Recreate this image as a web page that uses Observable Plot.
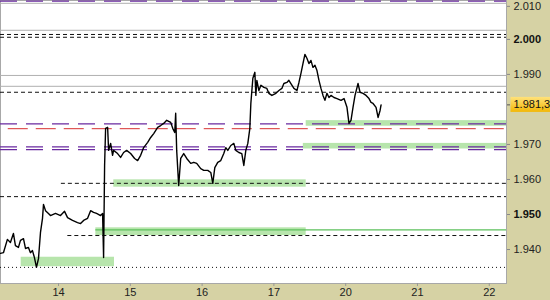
<!DOCTYPE html>
<html>
<head>
<meta charset="utf-8">
<script src="https://cdn.jsdelivr.net/npm/d3@7"></script>
<script src="https://cdn.jsdelivr.net/npm/@observablehq/plot@0.6"></script>
<style>
  html, body { margin: 0; padding: 0; background: #d6d2a4; }
  #chart svg { display: block; }
</style>
</head>
<body>
<div id="chart"></div>
<script>
// ---- data (x = trading-day index: 0 = day 14) ----
const dayLabels = ["14", "15", "16", "17", "20", "21", "22"];
const dayTicks = [0, 1, 2, 3, 4, 5, 6];
const xMin = -0.808, xMax = 6.24;
const yMin = 1.9303, yMax = 2.0111;
const yTicksNormal = [1.94, 1.96, 1.97, 1.99];
const yTicksTop = [2.01];
const yTicksBold = [1.95, 2.00];

const priceX = [-0.809,-0.767,-0.712,-0.670,-0.628,-0.600,-0.558,-0.530,-0.488,-0.460,-0.419,-0.391,-0.363,-0.335,-0.307,-0.279,-0.251,-0.223,-0.209,-0.181,-0.140,-0.112,-0.042,0.028,0.084,0.126,0.195,0.265,0.307,0.349,0.405,0.447,0.488,0.530,0.586,0.614,0.628,0.642,0.656,0.684,0.698,0.726,0.753,0.767,0.823,0.865,0.907,0.949,1.005,1.060,1.102,1.144,1.186,1.242,1.284,1.326,1.381,1.423,1.465,1.507,1.563,1.591,1.619,1.632,1.646,1.674,1.702,1.744,1.786,1.842,1.884,1.925,1.981,2.023,2.079,2.121,2.149,2.177,2.218,2.260,2.302,2.330,2.358,2.400,2.442,2.470,2.512,2.553,2.581,2.609,2.637,2.665,2.679,2.707,2.735,2.749,2.763,2.791,2.819,2.860,2.902,2.930,2.972,3.028,3.070,3.111,3.139,3.181,3.209,3.237,3.279,3.321,3.349,3.377,3.405,3.432,3.460,3.488,3.516,3.544,3.572,3.600,3.628,3.656,3.684,3.711,3.739,3.767,3.795,3.837,3.879,3.935,3.977,4.018,4.046,4.074,4.102,4.130,4.172,4.200,4.242,4.284,4.325,4.353,4.381,4.423,4.451,4.479,4.493];
const priceY = [1.9389,1.9391,1.9429,1.9420,1.9446,1.9411,1.9406,1.9426,1.9431,1.9403,1.9406,1.9391,1.9397,1.9377,1.9349,1.9374,1.9449,1.9489,1.9529,1.9511,1.9503,1.9497,1.9503,1.9497,1.9509,1.9491,1.9483,1.9477,1.9474,1.9483,1.9489,1.9511,1.9506,1.9503,1.9497,1.9503,1.9377,1.9640,1.9746,1.9749,1.9683,1.9703,1.9669,1.9683,1.9674,1.9663,1.9677,1.9683,1.9674,1.9660,1.9654,1.9669,1.9691,1.9706,1.9720,1.9731,1.9749,1.9754,1.9760,1.9769,1.9763,1.9746,1.9734,1.9789,1.9683,1.9583,1.9660,1.9674,1.9660,1.9646,1.9649,1.9646,1.9631,1.9626,1.9626,1.9620,1.9589,1.9634,1.9649,1.9654,1.9674,1.9691,1.9683,1.9697,1.9703,1.9683,1.9677,1.9674,1.9640,1.9683,1.9703,1.9746,1.9817,1.9889,1.9906,1.9840,1.9883,1.9854,1.9869,1.9863,1.9860,1.9846,1.9840,1.9846,1.9854,1.9860,1.9874,1.9877,1.9883,1.9874,1.9860,1.9854,1.9877,1.9903,1.9931,1.9957,1.9946,1.9931,1.9940,1.9920,1.9926,1.9911,1.9883,1.9860,1.9840,1.9826,1.9846,1.9834,1.9840,1.9834,1.9831,1.9826,1.9831,1.9806,1.9760,1.9769,1.9806,1.9840,1.9874,1.9849,1.9846,1.9840,1.9831,1.9820,1.9817,1.9806,1.9777,1.9797,1.9813];

const purpleLevels = [2.0109, 1.9759, 1.9693, 1.9685];
const grayLevels = [2.0103, 2.0026, 1.9897, 1.9866];
const dashedLevels = [2.0014, 2.0006, 1.9849, 1.9551];
const dashedPartialLevels = [1.9589, 1.9440];
const dashedPartialStart = [0.04, 0.13];
const redLevels = [1.9745];
const redStart = [-0.70];
const dottedLevels = [1.9349];

const zoneLow   = [1.9752, 1.9687, 1.9578, 1.9440, 1.9351];
const zoneHigh  = [1.9768, 1.9703, 1.9599, 1.9462, 1.9378];
const zoneStart = [3.45, 3.41, 0.77, 0.52, -0.52];
const zoneEnd   = [xMax, xMax, 3.45, 3.45, 0.78];
const greenLineLevels = [1.9456];
const greenLineStart = [0.52];

// ---- build tables ----
const price = priceX.map((x, i) => ({x, y: priceY[i]}));
const zones = zoneLow.map((lo, i) => ({x1: zoneStart[i], x2: zoneEnd[i], y1: lo, y2: zoneHigh[i]}));
const partial = dashedPartialLevels.map((y, i) => ({y, x1: dashedPartialStart[i], x2: xMax}));
const reds = redLevels.map((y, i) => ({y, x1: redStart[i], x2: xMax}));
const greens = greenLineLevels.map((y, i) => ({y, x1: greenLineStart[i], x2: xMax}));
const last = priceY[priceY.length - 1];
const lastLabel = (d => { const s = d.toFixed(4); return s.slice(0, 5) + "," + s.slice(5); })(last);

const chart = Plot.plot({
  width: 550,
  height: 300,
  marginLeft: 0,
  marginTop: 0,
  marginRight: 44,
  marginBottom: 17,
  style: {background: "#d6d2a4", fontFamily: "Liberation Sans, Arial, sans-serif", fontSize: "11px", color: "#222"},
  x: {domain: [xMin, xMax], axis: null},
  y: {domain: [yMin, yMax], axis: null},
  marks: [
    Plot.frame({fill: "white", stroke: "#a8a8a8"}),
    Plot.rect(zones, {x1: "x1", x2: "x2", y1: "y1", y2: "y2", fill: "#b7e5ac"}),
    Plot.ruleY(greens, {y: "y", x1: "x1", x2: "x2", stroke: "#5cc05c", strokeWidth: 1.2}),
    Plot.ruleY(grayLevels, {stroke: "#b0b0b0", strokeWidth: 1}),
    Plot.ruleY(dashedLevels, {stroke: "#111", strokeWidth: 1, strokeDasharray: "4,3"}),
    Plot.ruleY(partial, {y: "y", x1: "x1", x2: "x2", stroke: "#111", strokeWidth: 1, strokeDasharray: "4,3"}),
    Plot.ruleY(dottedLevels, {stroke: "#111", strokeWidth: 1, strokeDasharray: "1,3"}),
    Plot.ruleY(reds, {y: "y", x1: "x1", x2: "x2", stroke: "#d83030", strokeWidth: 1, strokeDasharray: "20,8"}),
    Plot.ruleY(purpleLevels, {stroke: "#6a2aa0", strokeWidth: 1.2, strokeDasharray: "17,9"}),
    Plot.line(price, {x: "x", y: "y", stroke: "#000", strokeWidth: 1.4, curve: "linear"}),
    Plot.axisX({ticks: dayTicks, tickFormat: d => dayLabels[dayTicks.indexOf(d)], tickSize: 3, tickPadding: 2, stroke: "#999", fill: "#222"}),
    Plot.axisY({anchor: "right", ticks: yTicksNormal, tickFormat: d => d.toFixed(3), tickSize: 3, tickPadding: 4, stroke: "#888", fill: "#222"}),
    Plot.axisY({anchor: "right", ticks: yTicksTop, tickFormat: d => d.toFixed(3), tickSize: 3, tickPadding: 4, stroke: "#888", fill: "#222", dy: 2}),
    Plot.axisY({anchor: "right", ticks: yTicksBold, tickFormat: d => d.toFixed(3), tickSize: 3, tickPadding: 4, stroke: "#888", fill: "#111", fontWeight: "bold"}),
    Plot.axisY({anchor: "right", ticks: [last], tickFormat: () => lastLabel, tickSize: 3, tickPadding: 4, stroke: "#555", fill: "#111"})
  ]
});
document.getElementById("chart").appendChild(chart);

// highlight box behind the last-price label
const svg = d3.select(chart);
svg.selectAll("text").each(function() {
  if (this.textContent === lastLabel) {
    const b = this.getBBox();
    const defs = svg.append("defs");
    const g = defs.append("linearGradient").attr("id", "lastGrad").attr("x1", 0).attr("y1", 0).attr("x2", 0).attr("y2", 1);
    g.append("stop").attr("offset", "0%").attr("stop-color", "#ffe27a");
    g.append("stop").attr("offset", "100%").attr("stop-color", "#f2b705");
    const parent = this.parentNode;
    d3.select(parent).insert("rect", function() { return parent.firstChild; })
      .attr("x", b.x - 3).attr("y", b.y - 1.5)
      .attr("width", 60).attr("height", b.height + 3)
      .attr("fill", "url(#lastGrad)")
      .attr("transform", this.getAttribute("transform"));
  }
});
</script>
</body>
</html>
